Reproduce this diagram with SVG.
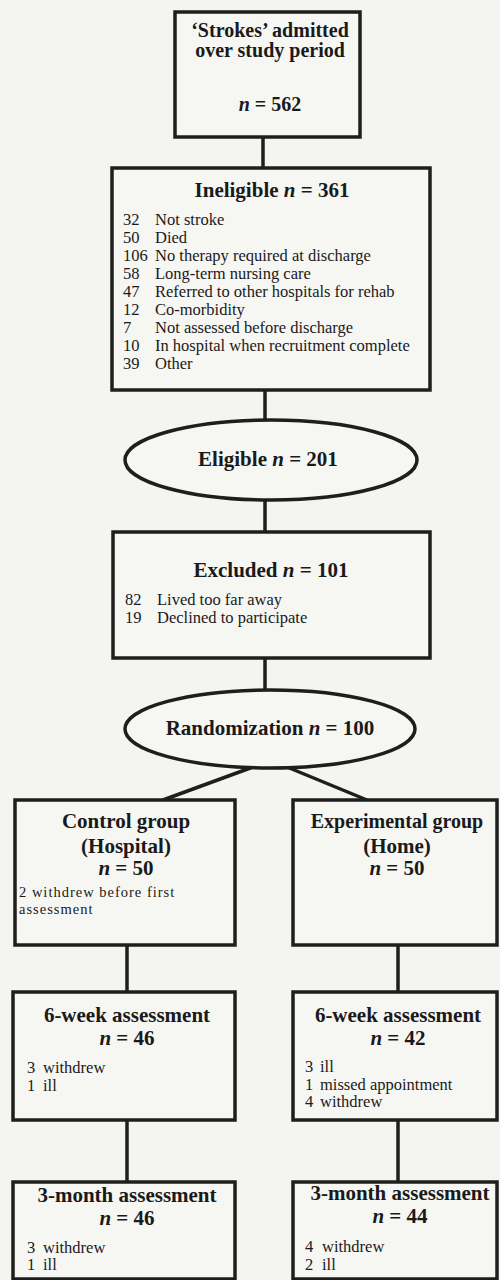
<svg xmlns="http://www.w3.org/2000/svg" width="500" height="1280" viewBox="0 0 500 1280">
<style>
.bg{fill:#f4f4f1}
.box{fill:#f6f6f3;stroke:#1e1e1e;stroke-width:3.5}
.conn{stroke:#1e1e1e;stroke-width:3.5;fill:none}
text{font-family:"Liberation Serif","Times New Roman",serif;fill:#1a1a1a}
.h{font-size:21px;font-weight:bold;text-anchor:middle}
.t{font-size:20px}
.i{font-style:italic}
.l{font-size:16.5px}
.s{font-size:14.5px;letter-spacing:1px}
</style>
<rect class="bg" x="0" y="0" width="500" height="1280"/>
<g id="connectors">
<line class="conn" x1="263" y1="137" x2="263" y2="168"/>
<line class="conn" x1="265" y1="390" x2="265" y2="420"/>
<line class="conn" x1="265" y1="500" x2="265" y2="532"/>
<line class="conn" x1="265" y1="658" x2="265" y2="690"/>
<line class="conn" x1="253" y1="767" x2="163" y2="800"/>
<line class="conn" x1="287" y1="767" x2="367" y2="800"/>
<line class="conn" x1="127" y1="945" x2="127" y2="992"/>
<line class="conn" x1="398" y1="945" x2="398" y2="992"/>
<line class="conn" x1="127" y1="1120" x2="127" y2="1182"/>
<line class="conn" x1="398" y1="1120" x2="398" y2="1182"/>
</g>
<g id="strokes">
<rect class="box" x="175" y="12" width="185" height="125"/>
<text class="h t" x="270" y="37">‘Strokes’ admitted</text>
<text class="h t" x="270" y="57">over study period</text>
<text class="h t" x="270" y="111"><tspan class="i">n</tspan> = 562</text>
</g>
<g id="ineligible">
<rect class="box" x="112" y="168" width="318" height="222"/>
<text class="h" x="272" y="197">Ineligible <tspan class="i">n</tspan> = 361</text>
<g class="l">
<text x="123" y="225">32</text><text x="155" y="225">Not stroke</text>
<text x="123" y="243">50</text><text x="155" y="243">Died</text>
<text x="123" y="261">106</text><text x="155" y="261">No therapy required at discharge</text>
<text x="123" y="279">58</text><text x="155" y="279">Long-term nursing care</text>
<text x="123" y="297">47</text><text x="155" y="297">Referred to other hospitals for rehab</text>
<text x="123" y="315">12</text><text x="155" y="315">Co-morbidity</text>
<text x="123" y="333">7</text><text x="155" y="333">Not assessed before discharge</text>
<text x="123" y="351">10</text><text x="155" y="351">In hospital when recruitment complete</text>
<text x="123" y="369">39</text><text x="155" y="369">Other</text>
</g>
</g>
<g id="eligible">
<ellipse class="box" cx="271" cy="460" rx="146" ry="40"/>
<text class="h" x="268" y="466">Eligible <tspan class="i">n</tspan> = 201</text>
</g>
<g id="excluded">
<rect class="box" x="113" y="532" width="317" height="126"/>
<text class="h" x="271" y="577">Excluded <tspan class="i">n</tspan> = 101</text>
<g class="l">
<text x="125" y="605">82</text><text x="157" y="605">Lived too far away</text>
<text x="125" y="623">19</text><text x="157" y="623">Declined to participate</text>
</g>
</g>
<g id="randomization">
<ellipse class="box" cx="270" cy="729" rx="145" ry="39"/>
<text class="h" x="270" y="735">Randomization <tspan class="i">n</tspan> = 100</text>
</g>
<g id="control">
<rect class="box" x="15" y="800" width="220" height="145"/>
<text class="h" x="126" y="828">Control group</text>
<text class="h" x="126" y="853">(Hospital)</text>
<text class="h" x="126" y="875"><tspan class="i">n</tspan> = 50</text>
<text class="s" x="19" y="897">2 withdrew before first</text>
<text class="s" x="19" y="914">assessment</text>
</g>
<g id="experimental">
<rect class="box" x="293" y="800" width="204" height="145"/>
<text class="h t" x="397" y="828">Experimental group</text>
<text class="h" x="397" y="853">(Home)</text>
<text class="h" x="397" y="875"><tspan class="i">n</tspan> = 50</text>
</g>
<g id="control-6week">
<rect class="box" x="13" y="992" width="222" height="128"/>
<text class="h" x="127" y="1022">6-week assessment</text>
<text class="h" x="127" y="1045"><tspan class="i">n</tspan> = 46</text>
<g class="l">
<text x="27" y="1073">3</text><text x="43" y="1073">withdrew</text>
<text x="27" y="1091">1</text><text x="43" y="1091">ill</text>
</g>
</g>
<g id="experimental-6week">
<rect class="box" x="293" y="992" width="204" height="128"/>
<text class="h" x="398" y="1022">6-week assessment</text>
<text class="h" x="398" y="1045"><tspan class="i">n</tspan> = 42</text>
<g class="l">
<text x="305" y="1072">3</text><text x="320" y="1072">ill</text>
<text x="305" y="1090">1</text><text x="320" y="1090">missed appointment</text>
<text x="305" y="1107">4</text><text x="320" y="1107">withdrew</text>
</g>
</g>
<g id="control-3month">
<rect class="box" x="13" y="1182" width="222" height="97"/>
<text class="h" x="127" y="1202">3-month assessment</text>
<text class="h" x="127" y="1225"><tspan class="i">n</tspan> = 46</text>
<g class="l">
<text x="27" y="1253">3</text><text x="43" y="1253">withdrew</text>
<text x="27" y="1270">1</text><text x="43" y="1270">ill</text>
</g>
</g>
<g id="experimental-3month">
<rect class="box" x="293" y="1182" width="204" height="97"/>
<text class="h" x="400" y="1200">3-month assessment</text>
<text class="h" x="400" y="1223"><tspan class="i">n</tspan> = 44</text>
<g class="l">
<text x="305" y="1252">4</text><text x="322" y="1252">withdrew</text>
<text x="305" y="1270">2</text><text x="322" y="1270">ill</text>
</g>
</g>
</svg>
